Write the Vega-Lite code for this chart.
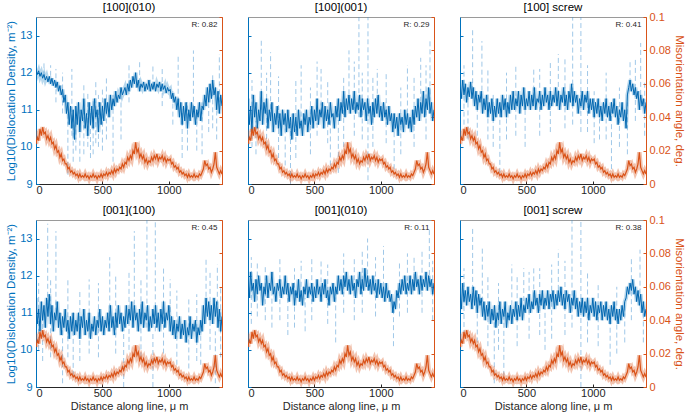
{
"$schema":"https://vega.github.io/schema/vega-lite/v6.json",
"padding":{"left":5,"top":1,"right":3,"bottom":0},
"config":{"font":"Liberation Sans","view":{"stroke":"#9a9a9a","strokeWidth":1},
"axis":{"grid":false,"labelFontSize":11,"titleFontSize":11.5,"titleFontWeight":"normal","labelColor":"#262626","titleColor":"#262626"},
"title":{"fontSize":11.5,"fontWeight":"normal","color":"#000000","offset":3}},
"datasets":{
"mis":[{"dist":0,"val":0.024},{"dist":10,"val":0.028},{"dist":20,"val":0.026},{"dist":30,"val":0.033},{"dist":40,"val":0.029},{"dist":50,"val":0.034},{"dist":60,"val":0.030},{"dist":70,"val":0.031},{"dist":80,"val":0.027},{"dist":90,"val":0.029},{"dist":100,"val":0.026},{"dist":110,"val":0.028},{"dist":120,"val":0.024},{"dist":130,"val":0.025},{"dist":140,"val":0.021},{"dist":150,"val":0.023},{"dist":160,"val":0.019},{"dist":170,"val":0.020},{"dist":180,"val":0.016},{"dist":190,"val":0.018},{"dist":200,"val":0.014},{"dist":210,"val":0.015},{"dist":220,"val":0.012},{"dist":230,"val":0.012},{"dist":240,"val":0.009},{"dist":250,"val":0.010},{"dist":260,"val":0.007},{"dist":270,"val":0.008},{"dist":280,"val":0.006},{"dist":290,"val":0.007},{"dist":300,"val":0.005},{"dist":310,"val":0.006},{"dist":320,"val":0.004},{"dist":330,"val":0.006},{"dist":340,"val":0.004},{"dist":350,"val":0.005},{"dist":360,"val":0.004},{"dist":370,"val":0.006},{"dist":380,"val":0.004},{"dist":390,"val":0.005},{"dist":400,"val":0.003},{"dist":410,"val":0.005},{"dist":420,"val":0.004},{"dist":430,"val":0.006},{"dist":440,"val":0.004},{"dist":450,"val":0.005},{"dist":460,"val":0.003},{"dist":470,"val":0.005},{"dist":480,"val":0.004},{"dist":490,"val":0.006},{"dist":500,"val":0.004},{"dist":510,"val":0.006},{"dist":520,"val":0.005},{"dist":530,"val":0.007},{"dist":540,"val":0.005},{"dist":550,"val":0.007},{"dist":560,"val":0.006},{"dist":570,"val":0.008},{"dist":580,"val":0.006},{"dist":590,"val":0.009},{"dist":600,"val":0.007},{"dist":610,"val":0.009},{"dist":620,"val":0.008},{"dist":630,"val":0.010},{"dist":640,"val":0.009},{"dist":650,"val":0.012},{"dist":660,"val":0.010},{"dist":670,"val":0.013},{"dist":680,"val":0.012},{"dist":690,"val":0.016},{"dist":700,"val":0.014},{"dist":710,"val":0.017},{"dist":720,"val":0.015},{"dist":730,"val":0.020},{"dist":740,"val":0.018},{"dist":750,"val":0.025},{"dist":760,"val":0.019},{"dist":770,"val":0.021},{"dist":780,"val":0.016},{"dist":790,"val":0.018},{"dist":800,"val":0.015},{"dist":810,"val":0.017},{"dist":820,"val":0.013},{"dist":830,"val":0.015},{"dist":840,"val":0.012},{"dist":850,"val":0.014},{"dist":860,"val":0.013},{"dist":870,"val":0.016},{"dist":880,"val":0.014},{"dist":890,"val":0.017},{"dist":900,"val":0.015},{"dist":910,"val":0.018},{"dist":920,"val":0.014},{"dist":930,"val":0.016},{"dist":940,"val":0.015},{"dist":950,"val":0.017},{"dist":960,"val":0.014},{"dist":970,"val":0.016},{"dist":980,"val":0.013},{"dist":990,"val":0.015},{"dist":1000,"val":0.014},{"dist":1010,"val":0.015},{"dist":1020,"val":0.012},{"dist":1030,"val":0.013},{"dist":1040,"val":0.010},{"dist":1050,"val":0.011},{"dist":1060,"val":0.009},{"dist":1070,"val":0.010},{"dist":1080,"val":0.007},{"dist":1090,"val":0.008},{"dist":1100,"val":0.006},{"dist":1110,"val":0.007},{"dist":1120,"val":0.005},{"dist":1130,"val":0.006},{"dist":1140,"val":0.004},{"dist":1150,"val":0.006},{"dist":1160,"val":0.004},{"dist":1170,"val":0.005},{"dist":1180,"val":0.004},{"dist":1190,"val":0.006},{"dist":1200,"val":0.004},{"dist":1210,"val":0.005},{"dist":1220,"val":0.004},{"dist":1230,"val":0.006},{"dist":1240,"val":0.005},{"dist":1250,"val":0.007},{"dist":1260,"val":0.009},{"dist":1270,"val":0.014},{"dist":1280,"val":0.011},{"dist":1290,"val":0.012},{"dist":1300,"val":0.009},{"dist":1310,"val":0.010},{"dist":1320,"val":0.007},{"dist":1330,"val":0.009},{"dist":1340,"val":0.012},{"dist":1350,"val":0.019},{"dist":1360,"val":0.010},{"dist":1370,"val":0.008},{"dist":1380,"val":0.006},{"dist":1390,"val":0.008},{"dist":1400,"val":0.006}],
"b1":[{"dist":0,"val":12.1},{"dist":10,"val":11.95},{"dist":20,"val":12.05},{"dist":30,"val":11.9},{"dist":40,"val":12.0},{"dist":50,"val":11.85},{"dist":60,"val":11.95},{"dist":70,"val":11.8},{"dist":80,"val":11.9},{"dist":90,"val":11.75},{"dist":100,"val":11.9},{"dist":110,"val":11.7},{"dist":120,"val":11.85},{"dist":130,"val":11.65},{"dist":140,"val":11.8},{"dist":150,"val":11.6},{"dist":160,"val":11.75},{"dist":170,"val":11.5},{"dist":180,"val":11.65},{"dist":190,"val":11.4},{"dist":200,"val":11.55},{"dist":210,"val":11.2},{"dist":220,"val":11.4},{"dist":230,"val":10.9},{"dist":240,"val":11.2},{"dist":250,"val":10.6},{"dist":260,"val":11.1},{"dist":270,"val":10.5},{"dist":280,"val":11.0},{"dist":290,"val":10.2},{"dist":300,"val":11.1},{"dist":310,"val":10.6},{"dist":320,"val":11.2},{"dist":330,"val":10.4},{"dist":340,"val":11.0},{"dist":350,"val":10.7},{"dist":360,"val":11.3},{"dist":370,"val":10.5},{"dist":380,"val":10.9},{"dist":390,"val":10.3},{"dist":400,"val":11.2},{"dist":410,"val":10.6},{"dist":420,"val":11.1},{"dist":430,"val":10.5},{"dist":440,"val":11.3},{"dist":450,"val":10.8},{"dist":460,"val":11.0},{"dist":470,"val":10.4},{"dist":480,"val":11.2},{"dist":490,"val":10.6},{"dist":500,"val":11.1},{"dist":510,"val":10.7},{"dist":520,"val":11.3},{"dist":530,"val":10.9},{"dist":540,"val":11.2},{"dist":550,"val":10.8},{"dist":560,"val":11.4},{"dist":570,"val":11.0},{"dist":580,"val":11.3},{"dist":590,"val":11.1},{"dist":600,"val":11.5},{"dist":610,"val":11.2},{"dist":620,"val":11.4},{"dist":630,"val":11.3},{"dist":640,"val":11.6},{"dist":650,"val":11.4},{"dist":660,"val":11.5},{"dist":670,"val":11.6},{"dist":680,"val":11.4},{"dist":690,"val":11.7},{"dist":700,"val":11.5},{"dist":710,"val":11.8},{"dist":720,"val":11.6},{"dist":730,"val":11.9},{"dist":740,"val":11.7},{"dist":750,"val":12.0},{"dist":760,"val":11.6},{"dist":770,"val":11.8},{"dist":780,"val":11.5},{"dist":790,"val":11.7},{"dist":800,"val":11.6},{"dist":810,"val":11.75},{"dist":820,"val":11.5},{"dist":830,"val":11.7},{"dist":840,"val":11.55},{"dist":850,"val":11.8},{"dist":860,"val":11.5},{"dist":870,"val":11.7},{"dist":880,"val":11.55},{"dist":890,"val":11.75},{"dist":900,"val":11.5},{"dist":910,"val":11.7},{"dist":920,"val":11.6},{"dist":930,"val":11.75},{"dist":940,"val":11.5},{"dist":950,"val":11.7},{"dist":960,"val":11.55},{"dist":970,"val":11.65},{"dist":980,"val":11.45},{"dist":990,"val":11.6},{"dist":1000,"val":11.5},{"dist":1010,"val":11.55},{"dist":1020,"val":11.3},{"dist":1030,"val":11.45},{"dist":1040,"val":11.2},{"dist":1050,"val":11.35},{"dist":1060,"val":11.0},{"dist":1070,"val":11.3},{"dist":1080,"val":10.8},{"dist":1090,"val":11.2},{"dist":1100,"val":10.6},{"dist":1110,"val":11.1},{"dist":1120,"val":10.7},{"dist":1130,"val":11.2},{"dist":1140,"val":10.5},{"dist":1150,"val":11.0},{"dist":1160,"val":10.7},{"dist":1170,"val":11.2},{"dist":1180,"val":10.8},{"dist":1190,"val":11.1},{"dist":1200,"val":10.6},{"dist":1210,"val":11.0},{"dist":1220,"val":10.8},{"dist":1230,"val":11.2},{"dist":1240,"val":10.7},{"dist":1250,"val":11.1},{"dist":1260,"val":11.0},{"dist":1270,"val":11.4},{"dist":1280,"val":11.1},{"dist":1290,"val":11.6},{"dist":1300,"val":11.2},{"dist":1310,"val":11.7},{"dist":1320,"val":11.3},{"dist":1330,"val":11.8},{"dist":1340,"val":11.4},{"dist":1350,"val":11.6},{"dist":1360,"val":11.0},{"dist":1370,"val":11.5},{"dist":1380,"val":10.9},{"dist":1390,"val":11.4},{"dist":1400,"val":11.1}],
"b2":[{"dist":0,"val":11.3},{"dist":10,"val":10.6},{"dist":20,"val":11.1},{"dist":30,"val":10.4},{"dist":40,"val":11.4},{"dist":50,"val":10.8},{"dist":60,"val":11.2},{"dist":70,"val":10.5},{"dist":80,"val":11.0},{"dist":90,"val":10.7},{"dist":100,"val":11.5},{"dist":110,"val":10.6},{"dist":120,"val":11.2},{"dist":130,"val":10.9},{"dist":140,"val":11.3},{"dist":150,"val":10.5},{"dist":160,"val":11.0},{"dist":170,"val":10.7},{"dist":180,"val":11.2},{"dist":190,"val":10.4},{"dist":200,"val":10.9},{"dist":210,"val":10.6},{"dist":220,"val":11.1},{"dist":230,"val":10.5},{"dist":240,"val":10.9},{"dist":250,"val":10.3},{"dist":260,"val":11.0},{"dist":270,"val":10.6},{"dist":280,"val":10.9},{"dist":290,"val":10.4},{"dist":300,"val":11.0},{"dist":310,"val":10.5},{"dist":320,"val":10.8},{"dist":330,"val":10.2},{"dist":340,"val":10.9},{"dist":350,"val":10.4},{"dist":360,"val":10.8},{"dist":370,"val":10.3},{"dist":380,"val":11.0},{"dist":390,"val":10.5},{"dist":400,"val":10.7},{"dist":410,"val":10.3},{"dist":420,"val":10.9},{"dist":430,"val":10.6},{"dist":440,"val":11.0},{"dist":450,"val":10.4},{"dist":460,"val":10.8},{"dist":470,"val":10.6},{"dist":480,"val":11.1},{"dist":490,"val":10.5},{"dist":500,"val":11.0},{"dist":510,"val":10.7},{"dist":520,"val":11.3},{"dist":530,"val":10.6},{"dist":540,"val":11.0},{"dist":550,"val":10.8},{"dist":560,"val":11.2},{"dist":570,"val":10.5},{"dist":580,"val":11.1},{"dist":590,"val":10.7},{"dist":600,"val":11.0},{"dist":610,"val":10.6},{"dist":620,"val":11.2},{"dist":630,"val":10.8},{"dist":640,"val":10.9},{"dist":650,"val":10.5},{"dist":660,"val":11.1},{"dist":670,"val":10.8},{"dist":680,"val":11.3},{"dist":690,"val":10.7},{"dist":700,"val":11.2},{"dist":710,"val":10.9},{"dist":720,"val":11.5},{"dist":730,"val":10.8},{"dist":740,"val":11.3},{"dist":750,"val":11.0},{"dist":760,"val":11.4},{"dist":770,"val":10.9},{"dist":780,"val":11.3},{"dist":790,"val":11.0},{"dist":800,"val":11.5},{"dist":810,"val":10.9},{"dist":820,"val":11.2},{"dist":830,"val":11.0},{"dist":840,"val":11.4},{"dist":850,"val":10.8},{"dist":860,"val":11.3},{"dist":870,"val":11.0},{"dist":880,"val":11.2},{"dist":890,"val":10.7},{"dist":900,"val":11.3},{"dist":910,"val":10.9},{"dist":920,"val":11.1},{"dist":930,"val":10.6},{"dist":940,"val":11.2},{"dist":950,"val":10.8},{"dist":960,"val":11.3},{"dist":970,"val":10.9},{"dist":980,"val":11.4},{"dist":990,"val":10.8},{"dist":1000,"val":11.1},{"dist":1010,"val":10.7},{"dist":1020,"val":11.2},{"dist":1030,"val":10.8},{"dist":1040,"val":11.0},{"dist":1050,"val":10.6},{"dist":1060,"val":11.1},{"dist":1070,"val":10.7},{"dist":1080,"val":10.9},{"dist":1090,"val":10.4},{"dist":1100,"val":10.9},{"dist":1110,"val":10.5},{"dist":1120,"val":10.8},{"dist":1130,"val":10.3},{"dist":1140,"val":10.9},{"dist":1150,"val":10.6},{"dist":1160,"val":10.8},{"dist":1170,"val":10.4},{"dist":1180,"val":11.0},{"dist":1190,"val":10.6},{"dist":1200,"val":10.9},{"dist":1210,"val":10.5},{"dist":1220,"val":10.8},{"dist":1230,"val":10.4},{"dist":1240,"val":11.0},{"dist":1250,"val":10.6},{"dist":1260,"val":11.1},{"dist":1270,"val":10.8},{"dist":1280,"val":11.3},{"dist":1290,"val":10.7},{"dist":1300,"val":11.2},{"dist":1310,"val":10.9},{"dist":1320,"val":11.5},{"dist":1330,"val":10.8},{"dist":1340,"val":11.3},{"dist":1350,"val":11.0},{"dist":1360,"val":11.6},{"dist":1370,"val":10.9},{"dist":1380,"val":11.2},{"dist":1390,"val":10.7},{"dist":1400,"val":11.0}],
"b3":[{"dist":0,"val":11.6},{"dist":10,"val":11.3},{"dist":20,"val":11.8},{"dist":30,"val":11.4},{"dist":40,"val":11.7},{"dist":50,"val":11.2},{"dist":60,"val":11.6},{"dist":70,"val":11.35},{"dist":80,"val":11.75},{"dist":90,"val":11.3},{"dist":100,"val":11.6},{"dist":110,"val":11.1},{"dist":120,"val":11.5},{"dist":130,"val":11.0},{"dist":140,"val":11.4},{"dist":150,"val":11.2},{"dist":160,"val":11.5},{"dist":170,"val":10.9},{"dist":180,"val":11.3},{"dist":190,"val":11.0},{"dist":200,"val":11.4},{"dist":210,"val":10.8},{"dist":220,"val":11.2},{"dist":230,"val":10.9},{"dist":240,"val":11.3},{"dist":250,"val":10.7},{"dist":260,"val":11.1},{"dist":270,"val":10.8},{"dist":280,"val":11.3},{"dist":290,"val":10.9},{"dist":300,"val":11.2},{"dist":310,"val":10.8},{"dist":320,"val":11.4},{"dist":330,"val":11.0},{"dist":340,"val":11.3},{"dist":350,"val":10.8},{"dist":360,"val":11.2},{"dist":370,"val":10.9},{"dist":380,"val":11.4},{"dist":390,"val":11.0},{"dist":400,"val":11.5},{"dist":410,"val":11.0},{"dist":420,"val":11.3},{"dist":430,"val":11.1},{"dist":440,"val":11.5},{"dist":450,"val":10.9},{"dist":460,"val":11.4},{"dist":470,"val":11.1},{"dist":480,"val":11.6},{"dist":490,"val":11.0},{"dist":500,"val":11.3},{"dist":510,"val":11.1},{"dist":520,"val":11.5},{"dist":530,"val":11.0},{"dist":540,"val":11.4},{"dist":550,"val":11.1},{"dist":560,"val":11.6},{"dist":570,"val":11.0},{"dist":580,"val":11.3},{"dist":590,"val":11.2},{"dist":600,"val":11.5},{"dist":610,"val":11.0},{"dist":620,"val":11.4},{"dist":630,"val":11.1},{"dist":640,"val":11.6},{"dist":650,"val":11.2},{"dist":660,"val":11.4},{"dist":670,"val":11.0},{"dist":680,"val":11.5},{"dist":690,"val":11.1},{"dist":700,"val":11.4},{"dist":710,"val":11.2},{"dist":720,"val":11.6},{"dist":730,"val":11.1},{"dist":740,"val":11.5},{"dist":750,"val":11.0},{"dist":760,"val":11.4},{"dist":770,"val":11.2},{"dist":780,"val":11.6},{"dist":790,"val":11.1},{"dist":800,"val":11.4},{"dist":810,"val":11.0},{"dist":820,"val":11.5},{"dist":830,"val":11.2},{"dist":840,"val":11.7},{"dist":850,"val":11.1},{"dist":860,"val":11.5},{"dist":870,"val":11.2},{"dist":880,"val":11.4},{"dist":890,"val":10.9},{"dist":900,"val":11.3},{"dist":910,"val":11.1},{"dist":920,"val":11.5},{"dist":930,"val":11.0},{"dist":940,"val":11.4},{"dist":950,"val":11.2},{"dist":960,"val":11.5},{"dist":970,"val":10.9},{"dist":980,"val":11.3},{"dist":990,"val":11.0},{"dist":1000,"val":11.3},{"dist":1010,"val":10.8},{"dist":1020,"val":11.2},{"dist":1030,"val":10.9},{"dist":1040,"val":11.3},{"dist":1050,"val":10.8},{"dist":1060,"val":11.1},{"dist":1070,"val":10.7},{"dist":1080,"val":11.2},{"dist":1090,"val":10.9},{"dist":1100,"val":11.3},{"dist":1110,"val":10.8},{"dist":1120,"val":11.1},{"dist":1130,"val":10.7},{"dist":1140,"val":11.2},{"dist":1150,"val":10.9},{"dist":1160,"val":11.3},{"dist":1170,"val":10.8},{"dist":1180,"val":11.1},{"dist":1190,"val":10.6},{"dist":1200,"val":11.0},{"dist":1210,"val":10.8},{"dist":1220,"val":11.2},{"dist":1230,"val":10.7},{"dist":1240,"val":11.0},{"dist":1250,"val":10.5},{"dist":1260,"val":11.4},{"dist":1270,"val":11.6},{"dist":1280,"val":11.8},{"dist":1290,"val":11.5},{"dist":1300,"val":11.7},{"dist":1310,"val":11.4},{"dist":1320,"val":11.6},{"dist":1330,"val":11.3},{"dist":1340,"val":11.5},{"dist":1350,"val":11.0},{"dist":1360,"val":11.4},{"dist":1370,"val":11.1},{"dist":1380,"val":11.3},{"dist":1390,"val":10.9},{"dist":1400,"val":11.2}],
"b4":[{"dist":0,"val":11.4},{"dist":10,"val":10.7},{"dist":20,"val":11.1},{"dist":30,"val":10.5},{"dist":40,"val":11.3},{"dist":50,"val":10.8},{"dist":60,"val":11.2},{"dist":70,"val":10.6},{"dist":80,"val":11.4},{"dist":90,"val":10.9},{"dist":100,"val":11.5},{"dist":110,"val":10.7},{"dist":120,"val":11.2},{"dist":130,"val":10.5},{"dist":140,"val":11.0},{"dist":150,"val":10.8},{"dist":160,"val":11.3},{"dist":170,"val":10.6},{"dist":180,"val":11.0},{"dist":190,"val":10.4},{"dist":200,"val":10.9},{"dist":210,"val":10.6},{"dist":220,"val":11.1},{"dist":230,"val":10.5},{"dist":240,"val":10.8},{"dist":250,"val":10.3},{"dist":260,"val":10.9},{"dist":270,"val":10.5},{"dist":280,"val":11.0},{"dist":290,"val":10.4},{"dist":300,"val":10.8},{"dist":310,"val":10.5},{"dist":320,"val":11.0},{"dist":330,"val":10.3},{"dist":340,"val":10.9},{"dist":350,"val":10.6},{"dist":360,"val":11.1},{"dist":370,"val":10.4},{"dist":380,"val":10.8},{"dist":390,"val":10.5},{"dist":400,"val":11.0},{"dist":410,"val":10.3},{"dist":420,"val":10.7},{"dist":430,"val":10.5},{"dist":440,"val":10.9},{"dist":450,"val":10.4},{"dist":460,"val":10.8},{"dist":470,"val":10.6},{"dist":480,"val":11.1},{"dist":490,"val":10.5},{"dist":500,"val":10.9},{"dist":510,"val":10.4},{"dist":520,"val":10.8},{"dist":530,"val":10.6},{"dist":540,"val":11.0},{"dist":550,"val":10.5},{"dist":560,"val":11.2},{"dist":570,"val":10.6},{"dist":580,"val":10.9},{"dist":590,"val":10.4},{"dist":600,"val":11.0},{"dist":610,"val":10.6},{"dist":620,"val":11.2},{"dist":630,"val":10.7},{"dist":640,"val":11.0},{"dist":650,"val":10.5},{"dist":660,"val":10.9},{"dist":670,"val":10.6},{"dist":680,"val":11.2},{"dist":690,"val":10.7},{"dist":700,"val":11.1},{"dist":710,"val":10.8},{"dist":720,"val":11.3},{"dist":730,"val":10.6},{"dist":740,"val":11.2},{"dist":750,"val":10.8},{"dist":760,"val":11.0},{"dist":770,"val":10.5},{"dist":780,"val":11.1},{"dist":790,"val":10.7},{"dist":800,"val":11.3},{"dist":810,"val":10.6},{"dist":820,"val":11.0},{"dist":830,"val":10.8},{"dist":840,"val":11.2},{"dist":850,"val":10.5},{"dist":860,"val":10.9},{"dist":870,"val":10.6},{"dist":880,"val":11.1},{"dist":890,"val":10.7},{"dist":900,"val":11.2},{"dist":910,"val":10.6},{"dist":920,"val":11.0},{"dist":930,"val":10.5},{"dist":940,"val":11.1},{"dist":950,"val":10.7},{"dist":960,"val":11.3},{"dist":970,"val":10.6},{"dist":980,"val":11.0},{"dist":990,"val":10.8},{"dist":1000,"val":11.2},{"dist":1010,"val":10.5},{"dist":1020,"val":10.9},{"dist":1030,"val":10.4},{"dist":1040,"val":10.8},{"dist":1050,"val":10.3},{"dist":1060,"val":10.7},{"dist":1070,"val":10.5},{"dist":1080,"val":10.9},{"dist":1090,"val":10.3},{"dist":1100,"val":10.7},{"dist":1110,"val":10.4},{"dist":1120,"val":10.8},{"dist":1130,"val":10.2},{"dist":1140,"val":10.6},{"dist":1150,"val":10.4},{"dist":1160,"val":10.9},{"dist":1170,"val":10.3},{"dist":1180,"val":10.7},{"dist":1190,"val":10.5},{"dist":1200,"val":10.8},{"dist":1210,"val":10.2},{"dist":1220,"val":10.6},{"dist":1230,"val":10.4},{"dist":1240,"val":10.8},{"dist":1250,"val":10.5},{"dist":1260,"val":11.2},{"dist":1270,"val":10.7},{"dist":1280,"val":11.4},{"dist":1290,"val":10.9},{"dist":1300,"val":11.3},{"dist":1310,"val":10.8},{"dist":1320,"val":11.2},{"dist":1330,"val":10.7},{"dist":1340,"val":11.4},{"dist":1350,"val":10.9},{"dist":1360,"val":11.3},{"dist":1370,"val":10.6},{"dist":1380,"val":11.1},{"dist":1390,"val":10.5},{"dist":1400,"val":10.9}],
"b5":[{"dist":0,"val":11.9},{"dist":10,"val":11.4},{"dist":20,"val":12.1},{"dist":30,"val":11.6},{"dist":40,"val":11.8},{"dist":50,"val":11.3},{"dist":60,"val":11.9},{"dist":70,"val":11.5},{"dist":80,"val":12.0},{"dist":90,"val":11.6},{"dist":100,"val":11.8},{"dist":110,"val":11.2},{"dist":120,"val":11.7},{"dist":130,"val":11.5},{"dist":140,"val":12.0},{"dist":150,"val":11.4},{"dist":160,"val":11.8},{"dist":170,"val":11.6},{"dist":180,"val":12.1},{"dist":190,"val":11.5},{"dist":200,"val":11.7},{"dist":210,"val":11.3},{"dist":220,"val":11.8},{"dist":230,"val":11.6},{"dist":240,"val":11.9},{"dist":250,"val":11.4},{"dist":260,"val":11.7},{"dist":270,"val":11.5},{"dist":280,"val":12.0},{"dist":290,"val":11.5},{"dist":300,"val":11.8},{"dist":310,"val":11.3},{"dist":320,"val":11.7},{"dist":330,"val":11.5},{"dist":340,"val":11.8},{"dist":350,"val":11.2},{"dist":360,"val":11.6},{"dist":370,"val":11.4},{"dist":380,"val":11.9},{"dist":390,"val":11.3},{"dist":400,"val":11.6},{"dist":410,"val":11.2},{"dist":420,"val":11.7},{"dist":430,"val":11.5},{"dist":440,"val":11.9},{"dist":450,"val":11.4},{"dist":460,"val":11.7},{"dist":470,"val":11.5},{"dist":480,"val":11.8},{"dist":490,"val":11.3},{"dist":500,"val":11.7},{"dist":510,"val":11.4},{"dist":520,"val":11.9},{"dist":530,"val":11.5},{"dist":540,"val":11.7},{"dist":550,"val":11.3},{"dist":560,"val":11.8},{"dist":570,"val":11.5},{"dist":580,"val":11.9},{"dist":590,"val":11.4},{"dist":600,"val":11.6},{"dist":610,"val":11.2},{"dist":620,"val":11.7},{"dist":630,"val":11.5},{"dist":640,"val":11.8},{"dist":650,"val":11.3},{"dist":660,"val":11.7},{"dist":670,"val":11.5},{"dist":680,"val":12.0},{"dist":690,"val":11.6},{"dist":700,"val":11.9},{"dist":710,"val":11.5},{"dist":720,"val":12.0},{"dist":730,"val":11.7},{"dist":740,"val":12.1},{"dist":750,"val":11.6},{"dist":760,"val":11.9},{"dist":770,"val":11.5},{"dist":780,"val":12.0},{"dist":790,"val":11.6},{"dist":800,"val":11.8},{"dist":810,"val":11.4},{"dist":820,"val":11.9},{"dist":830,"val":11.7},{"dist":840,"val":12.1},{"dist":850,"val":11.5},{"dist":860,"val":11.9},{"dist":870,"val":11.6},{"dist":880,"val":12.2},{"dist":890,"val":11.7},{"dist":900,"val":12.0},{"dist":910,"val":11.6},{"dist":920,"val":11.9},{"dist":930,"val":11.5},{"dist":940,"val":12.0},{"dist":950,"val":11.6},{"dist":960,"val":11.8},{"dist":970,"val":11.4},{"dist":980,"val":11.9},{"dist":990,"val":11.5},{"dist":1000,"val":11.8},{"dist":1010,"val":11.4},{"dist":1020,"val":11.7},{"dist":1030,"val":11.3},{"dist":1040,"val":11.8},{"dist":1050,"val":11.4},{"dist":1060,"val":11.6},{"dist":1070,"val":11.3},{"dist":1080,"val":11.5},{"dist":1090,"val":11.0},{"dist":1100,"val":11.3},{"dist":1110,"val":11.1},{"dist":1120,"val":11.6},{"dist":1130,"val":11.4},{"dist":1140,"val":11.8},{"dist":1150,"val":11.5},{"dist":1160,"val":11.9},{"dist":1170,"val":11.6},{"dist":1180,"val":12.0},{"dist":1190,"val":11.5},{"dist":1200,"val":11.8},{"dist":1210,"val":11.6},{"dist":1220,"val":12.0},{"dist":1230,"val":11.5},{"dist":1240,"val":11.9},{"dist":1250,"val":11.6},{"dist":1260,"val":12.1},{"dist":1270,"val":11.7},{"dist":1280,"val":11.9},{"dist":1290,"val":11.5},{"dist":1300,"val":12.0},{"dist":1310,"val":11.6},{"dist":1320,"val":11.9},{"dist":1330,"val":11.7},{"dist":1340,"val":12.1},{"dist":1350,"val":11.6},{"dist":1360,"val":12.0},{"dist":1370,"val":11.7},{"dist":1380,"val":11.9},{"dist":1390,"val":11.5},{"dist":1400,"val":11.8}],
"b6":[{"dist":0,"val":11.5},{"dist":10,"val":11.1},{"dist":20,"val":11.8},{"dist":30,"val":11.3},{"dist":40,"val":11.6},{"dist":50,"val":11.2},{"dist":60,"val":11.7},{"dist":70,"val":11.3},{"dist":80,"val":11.5},{"dist":90,"val":11.1},{"dist":100,"val":11.7},{"dist":110,"val":11.2},{"dist":120,"val":11.6},{"dist":130,"val":11.0},{"dist":140,"val":11.5},{"dist":150,"val":11.2},{"dist":160,"val":11.4},{"dist":170,"val":10.9},{"dist":180,"val":11.3},{"dist":190,"val":10.8},{"dist":200,"val":11.2},{"dist":210,"val":10.9},{"dist":220,"val":11.3},{"dist":230,"val":10.7},{"dist":240,"val":11.1},{"dist":250,"val":10.8},{"dist":260,"val":11.2},{"dist":270,"val":10.6},{"dist":280,"val":11.0},{"dist":290,"val":10.8},{"dist":300,"val":11.3},{"dist":310,"val":10.7},{"dist":320,"val":11.1},{"dist":330,"val":10.9},{"dist":340,"val":11.3},{"dist":350,"val":10.6},{"dist":360,"val":11.0},{"dist":370,"val":10.8},{"dist":380,"val":11.2},{"dist":390,"val":10.7},{"dist":400,"val":11.1},{"dist":410,"val":10.9},{"dist":420,"val":11.3},{"dist":430,"val":10.8},{"dist":440,"val":11.2},{"dist":450,"val":10.9},{"dist":460,"val":11.4},{"dist":470,"val":10.8},{"dist":480,"val":11.2},{"dist":490,"val":11.0},{"dist":500,"val":11.4},{"dist":510,"val":11.1},{"dist":520,"val":11.5},{"dist":530,"val":11.0},{"dist":540,"val":11.3},{"dist":550,"val":11.1},{"dist":560,"val":11.6},{"dist":570,"val":11.2},{"dist":580,"val":11.4},{"dist":590,"val":11.0},{"dist":600,"val":11.5},{"dist":610,"val":11.2},{"dist":620,"val":11.6},{"dist":630,"val":11.1},{"dist":640,"val":11.4},{"dist":650,"val":11.2},{"dist":660,"val":11.6},{"dist":670,"val":11.1},{"dist":680,"val":11.5},{"dist":690,"val":11.3},{"dist":700,"val":11.6},{"dist":710,"val":11.1},{"dist":720,"val":11.5},{"dist":730,"val":11.2},{"dist":740,"val":11.6},{"dist":750,"val":11.3},{"dist":760,"val":11.7},{"dist":770,"val":11.2},{"dist":780,"val":11.5},{"dist":790,"val":11.1},{"dist":800,"val":11.6},{"dist":810,"val":11.3},{"dist":820,"val":11.5},{"dist":830,"val":11.0},{"dist":840,"val":11.4},{"dist":850,"val":11.2},{"dist":860,"val":11.6},{"dist":870,"val":11.1},{"dist":880,"val":11.4},{"dist":890,"val":10.9},{"dist":900,"val":11.3},{"dist":910,"val":11.0},{"dist":920,"val":11.4},{"dist":930,"val":10.9},{"dist":940,"val":11.3},{"dist":950,"val":11.0},{"dist":960,"val":11.4},{"dist":970,"val":10.8},{"dist":980,"val":11.2},{"dist":990,"val":11.0},{"dist":1000,"val":11.4},{"dist":1010,"val":10.9},{"dist":1020,"val":11.3},{"dist":1030,"val":10.8},{"dist":1040,"val":11.2},{"dist":1050,"val":11.0},{"dist":1060,"val":11.3},{"dist":1070,"val":10.8},{"dist":1080,"val":11.2},{"dist":1090,"val":10.9},{"dist":1100,"val":11.3},{"dist":1110,"val":10.8},{"dist":1120,"val":11.1},{"dist":1130,"val":10.7},{"dist":1140,"val":11.2},{"dist":1150,"val":10.9},{"dist":1160,"val":11.3},{"dist":1170,"val":10.8},{"dist":1180,"val":11.1},{"dist":1190,"val":10.7},{"dist":1200,"val":11.1},{"dist":1210,"val":10.8},{"dist":1220,"val":11.2},{"dist":1230,"val":10.9},{"dist":1240,"val":11.3},{"dist":1250,"val":11.4},{"dist":1260,"val":11.7},{"dist":1270,"val":11.5},{"dist":1280,"val":11.8},{"dist":1290,"val":11.6},{"dist":1300,"val":11.9},{"dist":1310,"val":11.5},{"dist":1320,"val":11.7},{"dist":1330,"val":11.3},{"dist":1340,"val":11.6},{"dist":1350,"val":11.2},{"dist":1360,"val":11.5},{"dist":1370,"val":11.0},{"dist":1380,"val":11.3},{"dist":1390,"val":10.9},{"dist":1400,"val":11.1}],
"s1":[{"dist":60,"val":11.9,"hi":12.3},{"dist":110,"val":11.7,"hi":12.2},{"dist":150,"val":11.2,"hi":12.1},{"dist":200,"val":10.9,"hi":12.0},{"dist":240,"val":9.25,"hi":11.2},{"dist":270,"val":10.3,"hi":12.1},{"dist":280,"val":9.6,"hi":10.9},{"dist":300,"val":9.9,"hi":10.8},{"dist":330,"val":9.6,"hi":11.0},{"dist":360,"val":9.8,"hi":11.7},{"dist":390,"val":10.0,"hi":11.5},{"dist":410,"val":9.7,"hi":11.0},{"dist":430,"val":9.8,"hi":11.3},{"dist":450,"val":10.1,"hi":11.8},{"dist":470,"val":10.0,"hi":11.4},{"dist":500,"val":9.9,"hi":11.6},{"dist":530,"val":10.2,"hi":11.9},{"dist":580,"val":9.6,"hi":11.4},{"dist":640,"val":10.2,"hi":11.5},{"dist":700,"val":11.2,"hi":12.2},{"dist":780,"val":11.5,"hi":12.35},{"dist":880,"val":11.6,"hi":12.2},{"dist":950,"val":11.1,"hi":12.1},{"dist":1030,"val":10.6,"hi":11.5},{"dist":1070,"val":11.0,"hi":12.5},{"dist":1100,"val":9.7,"hi":11.0},{"dist":1140,"val":9.9,"hi":11.2},{"dist":1185,"val":11.0,"hi":12.6},{"dist":1210,"val":9.9,"hi":11.0},{"dist":1250,"val":9.8,"hi":11.2},{"dist":1300,"val":10.4,"hi":11.3},{"dist":1330,"val":10.5,"hi":12.0},{"dist":1360,"val":10.2,"hi":11.0},{"dist":1380,"val":11.2,"hi":12.5}],
"s2":[{"dist":30,"val":10.0,"hi":11.8},{"dist":60,"val":9.8,"hi":10.7},{"dist":100,"val":11.0,"hi":12.9},{"dist":140,"val":10.0,"hi":12.0},{"dist":170,"val":10.8,"hi":12.55},{"dist":230,"val":9.7,"hi":11.9},{"dist":280,"val":9.5,"hi":10.6},{"dist":320,"val":9.0,"hi":10.8},{"dist":360,"val":9.7,"hi":11.8},{"dist":400,"val":10.6,"hi":12.2},{"dist":470,"val":9.8,"hi":11.6},{"dist":520,"val":10.3,"hi":12.3},{"dist":550,"val":10.9,"hi":12.1},{"dist":600,"val":10.1,"hi":11.8},{"dist":620,"val":9.5,"hi":10.8},{"dist":680,"val":9.3,"hi":10.9},{"dist":720,"val":10.0,"hi":11.9},{"dist":760,"val":11.2,"hi":12.6},{"dist":800,"val":10.3,"hi":12.3},{"dist":835,"val":10.8,"hi":13.5},{"dist":860,"val":10.2,"hi":12.0},{"dist":903,"val":9.1,"hi":13.5},{"dist":940,"val":10.0,"hi":11.9},{"dist":973,"val":11.0,"hi":12.1},{"dist":1040,"val":10.1,"hi":12.0},{"dist":1100,"val":9.4,"hi":10.8},{"dist":1150,"val":9.8,"hi":11.6},{"dist":1200,"val":10.9,"hi":12.2},{"dist":1250,"val":10.0,"hi":11.9},{"dist":1300,"val":11.0,"hi":12.4},{"dist":1340,"val":10.2,"hi":12.2},{"dist":1370,"val":11.2,"hi":12.9}],
"s3":[{"dist":30,"val":10.6,"hi":12.2},{"dist":60,"val":10.2,"hi":11.3},{"dist":95,"val":11.5,"hi":13.2},{"dist":130,"val":10.3,"hi":11.4},{"dist":165,"val":11.3,"hi":12.85},{"dist":210,"val":10.2,"hi":12.1},{"dist":250,"val":10.0,"hi":11.4},{"dist":300,"val":9.3,"hi":11.0},{"dist":350,"val":10.2,"hi":12.0},{"dist":420,"val":10.3,"hi":12.2},{"dist":490,"val":10.0,"hi":11.2},{"dist":555,"val":11.3,"hi":12.1},{"dist":600,"val":10.3,"hi":12.1},{"dist":680,"val":10.4,"hi":12.3},{"dist":740,"val":11.4,"hi":12.5},{"dist":790,"val":10.5,"hi":12.4},{"dist":848,"val":10.6,"hi":13.5},{"dist":910,"val":10.4,"hi":13.5},{"dist":960,"val":10.4,"hi":12.2},{"dist":1010,"val":10.1,"hi":11.5},{"dist":1050,"val":10.2,"hi":11.1},{"dist":1100,"val":10.2,"hi":12.0},{"dist":1140,"val":9.4,"hi":11.0},{"dist":1200,"val":10.0,"hi":11.6},{"dist":1260,"val":9.8,"hi":11.2},{"dist":1280,"val":11.5,"hi":12.3},{"dist":1320,"val":10.7,"hi":12.4},{"dist":1360,"val":11.4,"hi":12.8},{"dist":1390,"val":10.3,"hi":11.8}],
"s4":[{"dist":20,"val":10.0,"hi":11.8},{"dist":50,"val":9.7,"hi":10.8},{"dist":88,"val":11.0,"hi":13.4},{"dist":110,"val":9.8,"hi":11.9},{"dist":150,"val":11.0,"hi":13.2},{"dist":200,"val":9.1,"hi":10.6},{"dist":240,"val":9.8,"hi":11.9},{"dist":280,"val":9.3,"hi":10.6},{"dist":330,"val":9.7,"hi":11.6},{"dist":400,"val":9.9,"hi":11.9},{"dist":470,"val":9.8,"hi":11.8},{"dist":555,"val":10.9,"hi":12.5},{"dist":600,"val":9.9,"hi":12.0},{"dist":660,"val":9.0,"hi":10.6},{"dist":700,"val":10.0,"hi":12.1},{"dist":740,"val":11.0,"hi":13.2},{"dist":790,"val":9.8,"hi":11.9},{"dist":835,"val":10.6,"hi":13.5},{"dist":880,"val":9.0,"hi":10.5},{"dist":898,"val":10.5,"hi":13.5},{"dist":960,"val":9.9,"hi":12.2},{"dist":1010,"val":10.8,"hi":11.9},{"dist":1060,"val":9.6,"hi":11.6},{"dist":1150,"val":9.5,"hi":11.4},{"dist":1210,"val":9.7,"hi":11.5},{"dist":1240,"val":9.6,"hi":10.5},{"dist":1280,"val":11.0,"hi":12.5},{"dist":1310,"val":10.0,"hi":12.1},{"dist":1350,"val":9.1,"hi":10.5},{"dist":1365,"val":11.0,"hi":12.3},{"dist":1390,"val":9.8,"hi":11.7}],
"s5":[{"dist":25,"val":10.7,"hi":12.5},{"dist":70,"val":10.9,"hi":12.4},{"dist":130,"val":10.8,"hi":12.3},{"dist":180,"val":10.6,"hi":11.5},{"dist":240,"val":10.8,"hi":12.5},{"dist":300,"val":10.4,"hi":11.5},{"dist":350,"val":10.6,"hi":12.2},{"dist":400,"val":11.7,"hi":12.4},{"dist":430,"val":10.5,"hi":11.4},{"dist":480,"val":10.8,"hi":12.5},{"dist":550,"val":11.6,"hi":12.4},{"dist":600,"val":10.7,"hi":12.3},{"dist":660,"val":10.2,"hi":11.5},{"dist":720,"val":11.0,"hi":12.6},{"dist":800,"val":10.8,"hi":12.5},{"dist":860,"val":11.0,"hi":12.7},{"dist":900,"val":11.6,"hi":13.0},{"dist":960,"val":10.9,"hi":12.5},{"dist":1020,"val":11.7,"hi":12.8},{"dist":1095,"val":10.1,"hi":11.3},{"dist":1140,"val":10.9,"hi":12.4},{"dist":1200,"val":11.0,"hi":12.6},{"dist":1250,"val":11.7,"hi":12.5},{"dist":1310,"val":11.0,"hi":12.7},{"dist":1365,"val":11.8,"hi":13.3},{"dist":1390,"val":10.8,"hi":12.4}],
"s6":[{"dist":30,"val":10.4,"hi":12.2},{"dist":95,"val":11.4,"hi":13.3},{"dist":130,"val":10.2,"hi":11.6},{"dist":168,"val":11.3,"hi":12.8},{"dist":210,"val":10.1,"hi":12.0},{"dist":258,"val":9.1,"hi":11.0},{"dist":290,"val":10.0,"hi":11.8},{"dist":330,"val":9.3,"hi":11.0},{"dist":390,"val":11.2,"hi":12.3},{"dist":430,"val":10.1,"hi":12.0},{"dist":480,"val":11.1,"hi":12.2},{"dist":520,"val":10.3,"hi":12.1},{"dist":555,"val":11.2,"hi":12.2},{"dist":600,"val":10.4,"hi":12.2},{"dist":640,"val":10.0,"hi":11.3},{"dist":690,"val":10.3,"hi":12.3},{"dist":740,"val":11.4,"hi":12.7},{"dist":790,"val":10.4,"hi":12.4},{"dist":843,"val":10.6,"hi":13.5},{"dist":910,"val":9.0,"hi":13.5},{"dist":960,"val":10.2,"hi":12.1},{"dist":1040,"val":10.1,"hi":11.8},{"dist":1130,"val":9.6,"hi":11.0},{"dist":1180,"val":9.9,"hi":11.7},{"dist":1240,"val":10.2,"hi":11.2},{"dist":1290,"val":10.8,"hi":12.5},{"dist":1355,"val":11.3,"hi":12.7},{"dist":1380,"val":10.2,"hi":11.3}]
},
"columns":3,
"spacing":{"row":36,"column":26},
"bounds":"flush",
"concat":[
{"title":{"text":"[100](010)"},"width":186,"height":167,"resolve":{"scale":{"y":"independent"}},
"layer":[
{"encoding":{"x":{"field":"dist","type":"quantitative","scale":{"domain":[0,1400],"nice":false},"axis":{"values":[0,500,1000],"format":"d","title":null,"tickSize":-3,"labelPadding":3,"domainColor":"#262626","tickColor":"#262626"}},
"y":{"field":"val","type":"quantitative","scale":{"domain":[9,13.5],"nice":false,"zero":false},"axis":{"values":[9,10,11,12,13],"title":"Log10(Dislocation Density, m⁻²)","titleColor":"#0072BD","labelColor":"#0072BD","domainColor":"#0072BD","tickColor":"#0072BD","tickSize":-3,"labelPadding":7,"titlePadding":3}}},
"layer":[
{"data":{"name":"s1"},"mark":{"type":"rule","clip":true,"color":"#3d8fd1","opacity":0.55,"strokeWidth":0.9,"strokeDash":[5,3]},"encoding":{"y2":{"field":"hi"}}},
{"data":{"name":"b1"},"mark":{"type":"line","clip":true,"color":"#0072BD","strokeWidth":4,"opacity":0.28},"encoding":{}},
{"data":{"name":"b1"},"mark":{"type":"line","clip":true,"color":"#0066b0","strokeWidth":1},"encoding":{}},
{"data":{"values":[{"dist":1365,"val":13.28,"label":"R: 0.82"}]},"mark":{"type":"text","align":"right","baseline":"middle","fontSize":8,"color":"#262626"},"encoding":{"text":{"field":"label"}}}]},
{"data":{"name":"mis"},"encoding":{"x":{"field":"dist","type":"quantitative","scale":{"domain":[0,1400],"nice":false},"axis":{"values":[0,500,1000],"format":"d","title":null,"tickSize":-3,"labelPadding":3,"domainColor":"#262626","tickColor":"#262626"}},
"y":{"field":"val","type":"quantitative","scale":{"domain":[0,0.1],"nice":false},"axis":{"orient":"right","values":[0,0.02,0.04,0.06,0.08,0.1],"title":null,"labels":false,"domainColor":"#D95319","tickColor":"#D95319","tickSize":-3}}},
"layer":[
{"mark":{"type":"line","clip":true,"color":"#D95319","strokeWidth":4.5,"opacity":0.35},"encoding":{}},
{"mark":{"type":"line","clip":true,"color":"#D95319","strokeWidth":1.2},"encoding":{}}]}]},
{"title":{"text":"[100](001)"},"width":186,"height":167,"resolve":{"scale":{"y":"independent"}},
"layer":[
{"encoding":{"x":{"field":"dist","type":"quantitative","scale":{"domain":[0,1400],"nice":false},"axis":{"values":[0,500,1000],"format":"d","title":null,"tickSize":-3,"labelPadding":3,"domainColor":"#262626","tickColor":"#262626"}},
"y":{"field":"val","type":"quantitative","scale":{"domain":[9,13.5],"nice":false,"zero":false},"axis":{"values":[9,10,11,12,13],"title":null,"labels":false,"domainColor":"#0072BD","tickColor":"#0072BD","tickSize":-3}}},
"layer":[
{"data":{"name":"s2"},"mark":{"type":"rule","clip":true,"color":"#3d8fd1","opacity":0.55,"strokeWidth":0.9,"strokeDash":[5,3]},"encoding":{"y2":{"field":"hi"}}},
{"data":{"name":"b2"},"mark":{"type":"line","clip":true,"color":"#0072BD","strokeWidth":4,"opacity":0.28},"encoding":{}},
{"data":{"name":"b2"},"mark":{"type":"line","clip":true,"color":"#0066b0","strokeWidth":1},"encoding":{}},
{"data":{"values":[{"dist":1365,"val":13.28,"label":"R: 0.29"}]},"mark":{"type":"text","align":"right","baseline":"middle","fontSize":8,"color":"#262626"},"encoding":{"text":{"field":"label"}}}]},
{"data":{"name":"mis"},"encoding":{"x":{"field":"dist","type":"quantitative","scale":{"domain":[0,1400],"nice":false},"axis":{"values":[0,500,1000],"format":"d","title":null,"tickSize":-3,"labelPadding":3,"domainColor":"#262626","tickColor":"#262626"}},
"y":{"field":"val","type":"quantitative","scale":{"domain":[0,0.1],"nice":false},"axis":{"orient":"right","values":[0,0.02,0.04,0.06,0.08,0.1],"title":null,"labels":false,"domainColor":"#D95319","tickColor":"#D95319","tickSize":-3}}},
"layer":[
{"mark":{"type":"line","clip":true,"color":"#D95319","strokeWidth":4.5,"opacity":0.35},"encoding":{}},
{"mark":{"type":"line","clip":true,"color":"#D95319","strokeWidth":1.2},"encoding":{}}]}]},
{"title":{"text":"[100] screw","offset":-2},"width":186,"height":167,"resolve":{"scale":{"y":"independent"}},
"layer":[
{"encoding":{"x":{"field":"dist","type":"quantitative","scale":{"domain":[0,1400],"nice":false},"axis":{"values":[0,500,1000],"format":"d","title":null,"tickSize":-3,"labelPadding":3,"domainColor":"#262626","tickColor":"#262626"}},
"y":{"field":"val","type":"quantitative","scale":{"domain":[9,13.5],"nice":false,"zero":false},"axis":{"values":[9,10,11,12,13],"title":null,"labels":false,"domainColor":"#0072BD","tickColor":"#0072BD","tickSize":-3}}},
"layer":[
{"data":{"name":"s3"},"mark":{"type":"rule","clip":true,"color":"#3d8fd1","opacity":0.55,"strokeWidth":0.9,"strokeDash":[5,3]},"encoding":{"y2":{"field":"hi"}}},
{"data":{"name":"b3"},"mark":{"type":"line","clip":true,"color":"#0072BD","strokeWidth":4,"opacity":0.28},"encoding":{}},
{"data":{"name":"b3"},"mark":{"type":"line","clip":true,"color":"#0066b0","strokeWidth":1},"encoding":{}},
{"data":{"values":[{"dist":1365,"val":13.28,"label":"R: 0.41"}]},"mark":{"type":"text","align":"right","baseline":"middle","fontSize":8,"color":"#262626"},"encoding":{"text":{"field":"label"}}}]},
{"data":{"name":"mis"},"encoding":{"x":{"field":"dist","type":"quantitative","scale":{"domain":[0,1400],"nice":false},"axis":{"values":[0,500,1000],"format":"d","title":null,"tickSize":-3,"labelPadding":3,"domainColor":"#262626","tickColor":"#262626"}},
"y":{"field":"val","type":"quantitative","scale":{"domain":[0,0.1],"nice":false},"axis":{"orient":"right","values":[0,0.02,0.04,0.06,0.08,0.1],"format":"~g","title":"Misorientation angle, deg.","titleColor":"#D95319","labelColor":"#D95319","domainColor":"#D95319","tickColor":"#D95319","tickSize":-3,"labelPadding":6,"titlePadding":3}}},
"layer":[
{"mark":{"type":"line","clip":true,"color":"#D95319","strokeWidth":4.5,"opacity":0.35},"encoding":{}},
{"mark":{"type":"line","clip":true,"color":"#D95319","strokeWidth":1.2},"encoding":{}}]}]},
{"title":{"text":"[001](100)"},"width":186,"height":167,"resolve":{"scale":{"y":"independent"}},
"layer":[
{"encoding":{"x":{"field":"dist","type":"quantitative","scale":{"domain":[0,1400],"nice":false},"axis":{"values":[0,500,1000],"format":"d","title":"Distance along line, μ m","titleFontSize":11,"titlePadding":2,"tickSize":-3,"labelPadding":3,"domainColor":"#262626","tickColor":"#262626"}},
"y":{"field":"val","type":"quantitative","scale":{"domain":[9,13.5],"nice":false,"zero":false},"axis":{"values":[9,10,11,12,13],"title":"Log10(Dislocation Density, m⁻²)","titleColor":"#0072BD","labelColor":"#0072BD","domainColor":"#0072BD","tickColor":"#0072BD","tickSize":-3,"labelPadding":7,"titlePadding":3}}},
"layer":[
{"data":{"name":"s4"},"mark":{"type":"rule","clip":true,"color":"#3d8fd1","opacity":0.55,"strokeWidth":0.9,"strokeDash":[5,3]},"encoding":{"y2":{"field":"hi"}}},
{"data":{"name":"b4"},"mark":{"type":"line","clip":true,"color":"#0072BD","strokeWidth":4,"opacity":0.28},"encoding":{}},
{"data":{"name":"b4"},"mark":{"type":"line","clip":true,"color":"#0066b0","strokeWidth":1},"encoding":{}},
{"data":{"values":[{"dist":1365,"val":13.28,"label":"R: 0.45"}]},"mark":{"type":"text","align":"right","baseline":"middle","fontSize":8,"color":"#262626"},"encoding":{"text":{"field":"label"}}}]},
{"data":{"name":"mis"},"encoding":{"x":{"field":"dist","type":"quantitative","scale":{"domain":[0,1400],"nice":false},"axis":{"values":[0,500,1000],"format":"d","title":"Distance along line, μ m","titleFontSize":11,"titlePadding":2,"tickSize":-3,"labelPadding":3,"domainColor":"#262626","tickColor":"#262626"}},
"y":{"field":"val","type":"quantitative","scale":{"domain":[0,0.1],"nice":false},"axis":{"orient":"right","values":[0,0.02,0.04,0.06,0.08,0.1],"title":null,"labels":false,"domainColor":"#D95319","tickColor":"#D95319","tickSize":-3}}},
"layer":[
{"mark":{"type":"line","clip":true,"color":"#D95319","strokeWidth":4.5,"opacity":0.35},"encoding":{}},
{"mark":{"type":"line","clip":true,"color":"#D95319","strokeWidth":1.2},"encoding":{}}]}]},
{"title":{"text":"[001](010)"},"width":186,"height":167,"resolve":{"scale":{"y":"independent"}},
"layer":[
{"encoding":{"x":{"field":"dist","type":"quantitative","scale":{"domain":[0,1400],"nice":false},"axis":{"values":[0,500,1000],"format":"d","title":"Distance along line, μ m","titleFontSize":11,"titlePadding":2,"tickSize":-3,"labelPadding":3,"domainColor":"#262626","tickColor":"#262626"}},
"y":{"field":"val","type":"quantitative","scale":{"domain":[9,13.5],"nice":false,"zero":false},"axis":{"values":[9,10,11,12,13],"title":null,"labels":false,"domainColor":"#0072BD","tickColor":"#0072BD","tickSize":-3}}},
"layer":[
{"data":{"name":"s5"},"mark":{"type":"rule","clip":true,"color":"#3d8fd1","opacity":0.55,"strokeWidth":0.9,"strokeDash":[5,3]},"encoding":{"y2":{"field":"hi"}}},
{"data":{"name":"b5"},"mark":{"type":"line","clip":true,"color":"#0072BD","strokeWidth":4,"opacity":0.28},"encoding":{}},
{"data":{"name":"b5"},"mark":{"type":"line","clip":true,"color":"#0066b0","strokeWidth":1},"encoding":{}},
{"data":{"values":[{"dist":1365,"val":13.28,"label":"R: 0.11"}]},"mark":{"type":"text","align":"right","baseline":"middle","fontSize":8,"color":"#262626"},"encoding":{"text":{"field":"label"}}}]},
{"data":{"name":"mis"},"encoding":{"x":{"field":"dist","type":"quantitative","scale":{"domain":[0,1400],"nice":false},"axis":{"values":[0,500,1000],"format":"d","title":"Distance along line, μ m","titleFontSize":11,"titlePadding":2,"tickSize":-3,"labelPadding":3,"domainColor":"#262626","tickColor":"#262626"}},
"y":{"field":"val","type":"quantitative","scale":{"domain":[0,0.1],"nice":false},"axis":{"orient":"right","values":[0,0.02,0.04,0.06,0.08,0.1],"title":null,"labels":false,"domainColor":"#D95319","tickColor":"#D95319","tickSize":-3}}},
"layer":[
{"mark":{"type":"line","clip":true,"color":"#D95319","strokeWidth":4.5,"opacity":0.35},"encoding":{}},
{"mark":{"type":"line","clip":true,"color":"#D95319","strokeWidth":1.2},"encoding":{}}]}]},
{"title":{"text":"[001] screw","offset":-2},"width":186,"height":167,"resolve":{"scale":{"y":"independent"}},
"layer":[
{"encoding":{"x":{"field":"dist","type":"quantitative","scale":{"domain":[0,1400],"nice":false},"axis":{"values":[0,500,1000],"format":"d","title":"Distance along line, μ m","titleFontSize":11,"titlePadding":2,"tickSize":-3,"labelPadding":3,"domainColor":"#262626","tickColor":"#262626"}},
"y":{"field":"val","type":"quantitative","scale":{"domain":[9,13.5],"nice":false,"zero":false},"axis":{"values":[9,10,11,12,13],"title":null,"labels":false,"domainColor":"#0072BD","tickColor":"#0072BD","tickSize":-3}}},
"layer":[
{"data":{"name":"s6"},"mark":{"type":"rule","clip":true,"color":"#3d8fd1","opacity":0.55,"strokeWidth":0.9,"strokeDash":[5,3]},"encoding":{"y2":{"field":"hi"}}},
{"data":{"name":"b6"},"mark":{"type":"line","clip":true,"color":"#0072BD","strokeWidth":4,"opacity":0.28},"encoding":{}},
{"data":{"name":"b6"},"mark":{"type":"line","clip":true,"color":"#0066b0","strokeWidth":1},"encoding":{}},
{"data":{"values":[{"dist":1365,"val":13.28,"label":"R: 0.38"}]},"mark":{"type":"text","align":"right","baseline":"middle","fontSize":8,"color":"#262626"},"encoding":{"text":{"field":"label"}}}]},
{"data":{"name":"mis"},"encoding":{"x":{"field":"dist","type":"quantitative","scale":{"domain":[0,1400],"nice":false},"axis":{"values":[0,500,1000],"format":"d","title":"Distance along line, μ m","titleFontSize":11,"titlePadding":2,"tickSize":-3,"labelPadding":3,"domainColor":"#262626","tickColor":"#262626"}},
"y":{"field":"val","type":"quantitative","scale":{"domain":[0,0.1],"nice":false},"axis":{"orient":"right","values":[0,0.02,0.04,0.06,0.08,0.1],"format":"~g","title":"Misorientation angle, deg.","titleColor":"#D95319","labelColor":"#D95319","domainColor":"#D95319","tickColor":"#D95319","tickSize":-3,"labelPadding":6,"titlePadding":3}}},
"layer":[
{"mark":{"type":"line","clip":true,"color":"#D95319","strokeWidth":4.5,"opacity":0.35},"encoding":{}},
{"mark":{"type":"line","clip":true,"color":"#D95319","strokeWidth":1.2},"encoding":{}}]}]}
]
}
